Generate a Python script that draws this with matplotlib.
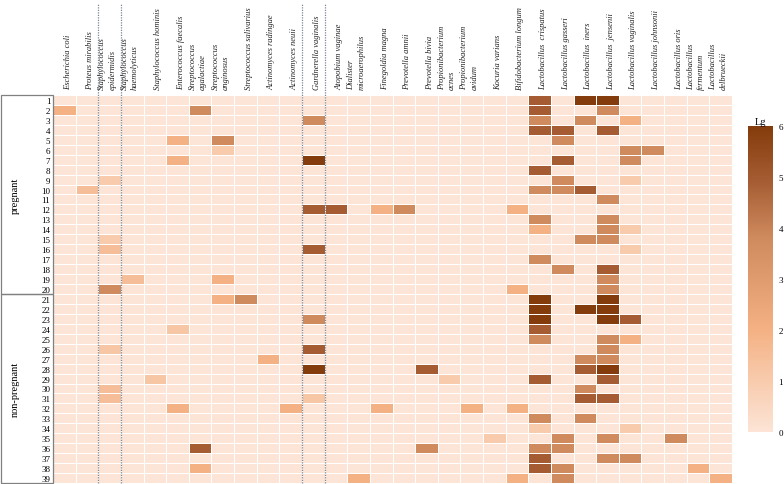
import numpy as np
import matplotlib
matplotlib.use("Agg")
import matplotlib.pyplot as plt
from matplotlib.colors import LinearSegmentedColormap
from matplotlib.patches import Rectangle

species = [
    "Escherichia coli", "Proteus mirabilis", "Staphylococcus epidermidis",
    "Staphylococcus haemolyticus", "Staphylococcus hominis", "Enterococcus faecalis",
    "Streptococcus agalactiae", "Streptococcus anginosus", "Streptococcus salivarius",
    "Actinomyces radingae", "Actinomyces neuii", "Gardnerella vaginalis",
    "Atopobium vaginae", "Dialister microaerophilus", "Finegoldia magna",
    "Prevotella amnii", "Prevotella bivia", "Propionibacterium acnes",
    "Propionibacterium avidum", "Kocuria varians", "Bifidobacterium longum",
    "Lactobacillus  crispatus", "Lactobacillus gasseri", "Lactobacillus  iners",
    "Lactobacillus  jensenii", "Lactobacillus vaginalis", "Lactobacillus johnsonii",
    "Lactobacillus oris", "Lactobacillus fermentum", "Lactobacillus delbrueckii",
]
samples = [str(i) for i in range(1, 40)]

# Lg counts, non-zero cells only: sample -> {species column (1-based): value}
pregnant = {
    1: {22: 4.9, 24: 6, 25: 6},
    2: {1: 2, 7: 3.8, 22: 4.9, 25: 3.8},
    3: {12: 3.8, 22: 3.8, 24: 3.8, 26: 2},
    4: {22: 4.9, 23: 4.9, 25: 4.9},
    5: {6: 2, 8: 3.8, 23: 3.8},
    6: {8: 1, 26: 3.8, 27: 3.8},
    7: {6: 2, 12: 6, 23: 4.9, 26: 3.8},
    8: {22: 4.9},
    9: {3: 1, 23: 3.8, 26: 1},
    10: {2: 1.5, 22: 3.8, 23: 3.8, 24: 4.9},
    11: {25: 3.8},
    12: {12: 4.9, 13: 4.9, 15: 2, 16: 3.8, 21: 2},
    13: {22: 3.8, 25: 3.8},
    14: {22: 2, 25: 3.8, 26: 1},
    15: {3: 1, 24: 3.8, 25: 3.8},
    16: {3: 1.5, 12: 4.9, 26: 1},
    17: {22: 3.8},
    18: {23: 3.8, 25: 4.9},
    19: {4: 1.5, 8: 2, 25: 3.8},
    20: {3: 3.8, 21: 2, 25: 3.8},
}
non_pregnant = {
    21: {8: 2, 9: 3.8, 22: 6, 25: 6},
    22: {22: 6, 24: 6, 25: 6},
    23: {12: 3.8, 22: 6, 25: 6, 26: 4.9},
    24: {6: 1.2, 22: 4.9},
    25: {22: 3.8, 25: 3.8, 26: 2},
    26: {3: 1.2, 12: 4.9, 25: 3.8},
    27: {10: 2, 24: 3.8, 25: 3.8},
    28: {12: 6, 17: 4.9, 24: 4.9, 25: 6},
    29: {5: 1.2, 18: 1, 22: 4.9, 25: 4.9},
    30: {3: 1.5, 24: 3.8},
    31: {3: 1.5, 12: 1.2, 24: 4.9, 25: 4.9},
    32: {6: 2, 11: 2, 15: 2, 19: 2, 21: 2},
    33: {22: 3.8, 24: 3.8},
    34: {22: 1, 26: 1},
    35: {20: 1, 23: 3.8, 25: 3.8, 28: 3.8},
    36: {7: 4.9, 17: 3.8, 22: 3.8, 23: 3.8},
    37: {22: 4.9, 25: 3.8, 26: 3.8},
    38: {7: 2, 22: 4.9, 23: 3.8, 29: 2},
    39: {14: 2, 21: 2, 23: 3.8, 30: 2},
}
groups = ["pregnant", "non-pregnant"]

wrapped = {"Staphylococcus epidermidis", "Staphylococcus haemolyticus",
           "Streptococcus agalactiae", "Streptococcus anginosus",
           "Dialister microaerophilus", "Propionibacterium acnes",
           "Propionibacterium avidum", "Lactobacillus fermentum",
           "Lactobacillus delbrueckii"}

nrow, ncol = len(samples), len(species)
Z = np.zeros((nrow, ncol))
for d in (pregnant, non_pregnant):
    for s, cells in d.items():
        for c, v in cells.items():
            Z[s - 1, c - 1] = v
n_preg = len(pregnant)

cmap = LinearSegmentedColormap.from_list("lg", [
    (0.0, "#FCE4D6"), (1 / 6, "#F8CBAD"), (2 / 6, "#F4B183"),
    (3.8 / 6, "#CF8A5E"), (4.9 / 6, "#A65D33"), (1.0, "#843C0C")])

plt.rcParams["font.family"] = ["Liberation Serif", "DejaVu Serif"]

W, H = 784, 485
fig = plt.figure(figsize=(W / 100, H / 100), dpi=100)
x0, x1, ytop, ybot = 53, 732, 96, 484
ax = fig.add_axes([x0 / W, 1 - ybot / H, (x1 - x0) / W, (ybot - ytop) / H])
mesh = ax.pcolormesh(np.arange(ncol + 1), np.arange(nrow + 1), Z, cmap=cmap,
                     vmin=0, vmax=6, edgecolors="white", linewidth=0.7)
ax.set_xlim(0, ncol)
ax.set_ylim(nrow, 0)
for sp in ax.spines.values():
    sp.set_visible(False)
ax.set_xticks([])
ax.set_yticks(np.arange(nrow) + 0.5)
ax.set_yticklabels(samples, fontsize=6.5)
ax.tick_params(axis="y", length=0, pad=2)

# species labels above the columns
for i, name in enumerate(species):
    if name in wrapped:
        txt = name.replace(" ", "\n", 1)
        off = -0.1
    else:
        txt = name
        off = 0.15
    ax.text(i + 0.5 + off, -0.6, txt, rotation=90, ha="center", va="bottom",
            fontsize=6.1, style="italic", multialignment="left",
            linespacing=1.35, color="#222222")

# dotted separators
row_px = (ybot - ytop) / nrow
top_rows = -(ytop - 5) / row_px
for xv in (2, 3, 11, 12):
    ax.plot([xv, xv], [nrow, top_rows], ls=(0, (1, 1)), lw=0.9,
            color="#7d8595", clip_on=False)

# group box on the left
gax = fig.add_axes([1 / W, 1 - ybot / H, (x0 - 1) / W, (ybot - ytop) / H])
gax.set_xlim(0, 1)
gax.set_ylim(nrow, 0)
gax.axis("off")
gax.add_patch(Rectangle((0, 0), 1, n_preg, fill=False, ec="#808080", lw=0.9,
                        clip_on=False))
gax.add_patch(Rectangle((0, n_preg), 1, nrow - n_preg, fill=False, ec="#808080",
                        lw=0.9, clip_on=False))
gax.text(0.27, n_preg / 2, groups[0], rotation=90, ha="center", va="center",
         fontsize=7.5)
gax.text(0.27, (n_preg + nrow) / 2, groups[1], rotation=90, ha="center",
         va="center", fontsize=7.5)

# colorbar
cax = fig.add_axes([748 / W, 1 - 433 / H, 25 / W, 306 / H])
cb = fig.colorbar(mesh, cax=cax, ticks=range(7))
cb.outline.set_visible(False)
cax.tick_params(length=0, labelsize=6.5, pad=4)
cax.set_title("Lg", fontsize=7.5, pad=1)

fig.savefig("out.png", dpi=100)
